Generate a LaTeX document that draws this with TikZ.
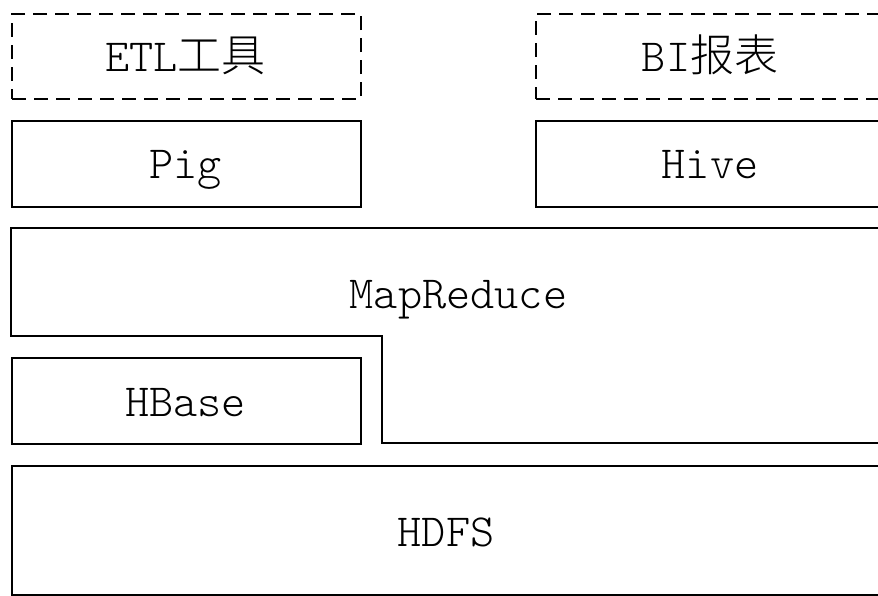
\documentclass[tikz,border=0pt]{standalone}
\usepackage{fontspec}
\setmonofont{Latin Modern Mono Light}
\newfontfamily\cjk{Noto Sans CJK SC Light}
\begin{document}
\begin{tikzpicture}[x=1pt,y=-1pt,
  box/.style={draw, line width=2pt, anchor=north west, inner sep=0pt},
  dbox/.style={box, dash pattern=on 14pt off 8pt},
  lbl/.style={font=\ttfamily\fontsize{46}{50}\selectfont, anchor=base, inner sep=0pt}]
\useasboundingbox (0,0) rectangle (878,595);
\fill[white] (0,0) rectangle (878,595);
\clip (0,0) rectangle (878,595);
% top row (dashed)
\node[dbox, minimum width=349pt, minimum height=85pt] (etl) at (11,13) {};
\node[lbl] (etlt) at (185.5,71) {ETL{\cjk\fontsize{44}{50}\selectfont 工具}};
\node[dbox, minimum width=350pt, minimum height=85pt] (bi) at (535,13) {};
\node[lbl] (bit) at (710,71) {BI{\cjk\fontsize{44}{50}\selectfont 报表}};
% second row
\node[box, minimum width=349pt, minimum height=86pt] (pig) at (11,120) {};
\node[lbl] (pigt) at (185.5,178) {Pig};
\node[box, minimum width=350pt, minimum height=86pt] (hive) at (535,120) {};
\node[lbl] (hivet) at (710,178) {Hive};
% MapReduce L-shape
\draw[line width=2pt] (11,228) -- (905,228) -- (905,443) -- (382,443) -- (382,336) -- (11,336) -- cycle;
\node[lbl] (mrt) at (458.5,308) {MapReduce};
% HBase
\node[box, minimum width=349pt, minimum height=86pt] (hbase) at (11,357) {};
\node[lbl] (hbaset) at (185.5,416) {HBase};
% HDFS
\node[box, minimum width=870pt, minimum height=129pt] (hdfs) at (11,465) {};
\node[lbl] (hdfst) at (446,546) {HDFS};
\end{tikzpicture}
\end{document}
